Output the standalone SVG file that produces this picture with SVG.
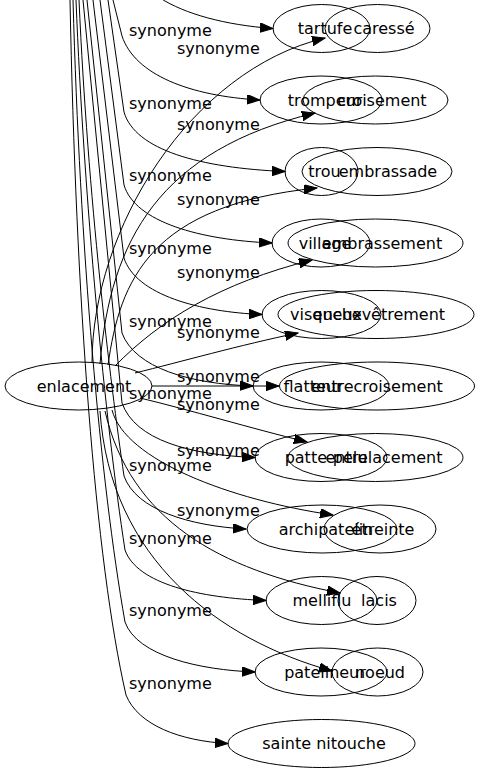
<svg xmlns="http://www.w3.org/2000/svg" width="483" height="779" viewBox="0 0 483 779">
<style>
.n ellipse{fill:none;stroke:#000;stroke-width:1}
text{font-family:"DejaVu Sans",Verdana,sans-serif;font-size:16px;fill:#000}
.n text{text-anchor:middle}
.e path{fill:none;stroke:#000;stroke-width:1;marker-end:url(#ah)}
.la{text-anchor:start}
</style>
<defs>
<marker id="ah" markerUnits="userSpaceOnUse" markerWidth="14" markerHeight="10" refX="13" refY="4.7" orient="auto">
<path d="M0,0 L13,4.7 L0,9.4 z" fill="#000" stroke="#000" stroke-width="1"/>
</marker>
</defs>
<rect width="483" height="779" fill="#fff"/>
<g id="edges" class="e">
<path d="M160,-2 C185,14 225,25 273,28.5"/>
<path d="M113,0 L122,36 C135,75 190,96 260,100"/>
<path d="M108,0 L124,112 C135,150 200,168 285,171.5"/>
<path d="M100,0 L124,185 C135,222 200,240 272,243"/>
<path d="M93,0 L124,258 C136,295 200,312 262,314.5"/>
<path d="M87,0 L122,333 C135,368 190,384 253,386"/>
<path d="M83,0 L122,403 C135,440 190,455 255,457.5"/>
<path d="M79,0 C88,200 110,380 124,476 C136,510 190,526 246,529"/>
<path d="M76,0 C84,200 105,420 125,550 C137,584 200,598 266,600.5"/>
<path d="M73,0 C80,250 100,480 125,622 C137,656 200,670 255,672"/>
<path d="M70,0 C76,300 95,560 126,695 C138,725 180,741 228,743.5"/>
<path d="M92,363 C92,230 190,70 325,38"/>
<path d="M100,364 C110,240 160,150 315,113"/>
<path d="M108,365 C120,280 150,205 317,188"/>
<path d="M115,366 C160,320 220,283 312,260"/>
<path d="M135,373 C180,362 240,345 298,333"/>
<path d="M152,386 L279,386"/>
<path d="M140,398 C190,410 250,428 307,442"/>
<path d="M112,410 C125,460 230,500 333,515"/>
<path d="M105,411 C130,520 220,570 340,593"/>
<path d="M100,411 C110,560 220,640 332,671"/>
<text class="la" x="129" y="36">synonyme</text>
<text class="la" x="129" y="108.5">synonyme</text>
<text class="la" x="129" y="181">synonyme</text>
<text class="la" x="129" y="253.5">synonyme</text>
<text class="la" x="129" y="327">synonyme</text>
<text class="la" x="129" y="398.5">synonyme</text>
<text class="la" x="129" y="471">synonyme</text>
<text class="la" x="129" y="543.5">synonyme</text>
<text class="la" x="129" y="616">synonyme</text>
<text class="la" x="129" y="688.5">synonyme</text>
<text class="la" x="177" y="53.5">synonyme</text>
<text class="la" x="177" y="129.5">synonyme</text>
<text class="la" x="177" y="204.5">synonyme</text>
<text class="la" x="177" y="278">synonyme</text>
<text class="la" x="177" y="337.5">synonyme</text>
<text class="la" x="177" y="381.5">synonyme</text>
<text class="la" x="177" y="409.5">synonyme</text>
<text class="la" x="177" y="456">synonyme</text>
<text class="la" x="177" y="516">synonyme</text>
</g>
<g id="node-enlacement" class="n"><ellipse cx="78.5" cy="386" rx="73.5" ry="24"/><text x="84" y="391.5">enlacement</text></g>
<g id="node-tartufe" class="n"><ellipse cx="321.5" cy="28.5" rx="48.5" ry="24"/><text x="325" y="34">tartufe</text></g>
<g id="node-trompeur" class="n"><ellipse cx="321" cy="100" rx="61" ry="24"/><text x="325" y="105.5">trompeur</text></g>
<g id="node-trou" class="n"><ellipse cx="321.5" cy="171.5" rx="36.5" ry="24"/><text x="324.5" y="177">trou</text></g>
<g id="node-village" class="n"><ellipse cx="321" cy="243" rx="49" ry="24"/><text x="325" y="248.5">village</text></g>
<g id="node-visqueux" class="n"><ellipse cx="321.5" cy="314.5" rx="59.5" ry="24"/><text x="326" y="320">visqueux</text></g>
<g id="node-flatteur" class="n"><ellipse cx="321" cy="386" rx="68" ry="24"/><text x="313" y="391.5">flatteur</text></g>
<g id="node-patte-pelu" class="n"><ellipse cx="321" cy="457.5" rx="66" ry="24"/><text x="326" y="463">patte-pelu</text></g>
<g id="node-archipatelin" class="n"><ellipse cx="322" cy="529" rx="75" ry="24"/><text x="326" y="534.5">archipatelin</text></g>
<g id="node-melliflu" class="n"><ellipse cx="321.5" cy="600.5" rx="55.5" ry="24"/><text x="322" y="606">melliflu</text></g>
<g id="node-patelineur" class="n"><ellipse cx="321" cy="672" rx="66" ry="24"/><text x="325" y="677.5">patelineur</text></g>
<g id="node-sainte-nitouche" class="n"><ellipse cx="321.5" cy="743.5" rx="93.5" ry="24"/><text x="324" y="749">sainte nitouche</text></g>
<g id="node-caresse" class="n"><ellipse cx="377.5" cy="28.5" rx="52.5" ry="24"/><text x="384" y="34">caressé</text></g>
<g id="node-croisement" class="n"><ellipse cx="375.5" cy="100" rx="72.5" ry="24"/><text x="382" y="105.5">croisement</text></g>
<g id="node-embrassade" class="n"><ellipse cx="377" cy="171.5" rx="75" ry="24"/><text x="388" y="177">embrassade</text></g>
<g id="node-embrassement" class="n"><ellipse cx="375.5" cy="243" rx="87.5" ry="24"/><text x="382" y="248.5">embrassement</text></g>
<g id="node-enchevetrement" class="n"><ellipse cx="376" cy="314.5" rx="98" ry="24"/><text x="379" y="320">enchevêtrement</text></g>
<g id="node-entrecroisement" class="n"><ellipse cx="377" cy="386" rx="97.5" ry="24"/><text x="377" y="391.5">entrecroisement</text></g>
<g id="node-entrelacement" class="n"><ellipse cx="375.5" cy="457.5" rx="87.5" ry="24"/><text x="384" y="463">entrelacement</text></g>
<g id="node-etreinte" class="n"><ellipse cx="380" cy="529" rx="56" ry="24"/><text x="383" y="534.5">étreinte</text></g>
<g id="node-lacis" class="n"><ellipse cx="377" cy="600.5" rx="39" ry="24"/><text x="379" y="606">lacis</text></g>
<g id="node-noeud" class="n"><ellipse cx="377.5" cy="672" rx="45.5" ry="24"/><text x="380" y="677.5">noeud</text></g>
</svg>
